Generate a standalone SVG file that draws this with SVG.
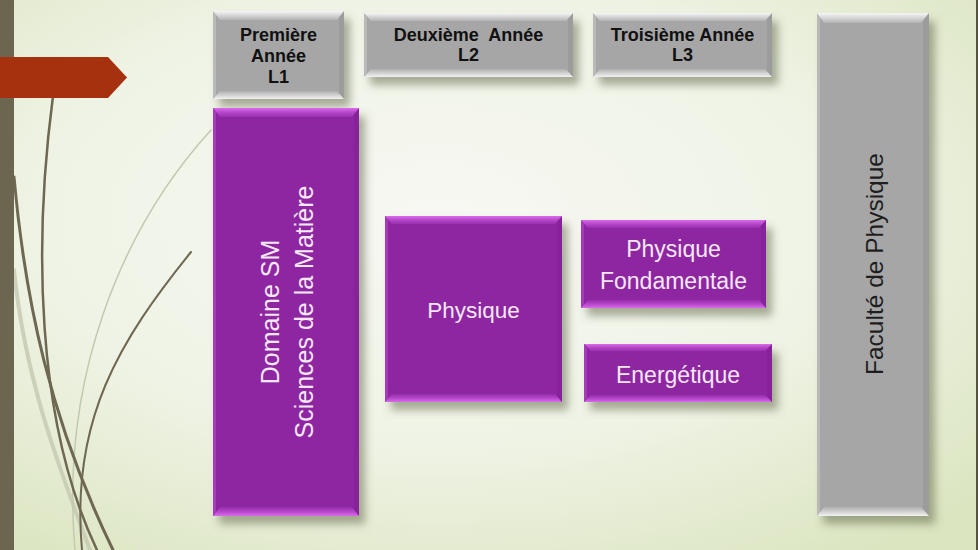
<svg xmlns="http://www.w3.org/2000/svg" width="978" height="550" viewBox="0 0 978 550">
<defs>
<radialGradient id="bg" cx="0.45" cy="0.4" r="0.75">
<stop offset="0" stop-color="#f7f8f3"/>
<stop offset="0.55" stop-color="#eff3e5"/>
<stop offset="1" stop-color="#dbe5c0"/>
</radialGradient>
<filter id="sh" x="-20%" y="-20%" width="150%" height="150%">
<feDropShadow dx="6" dy="8" stdDeviation="4.5" flood-color="#5a6040" flood-opacity="0.5"/>
</filter>
<linearGradient id="tHL" x1="0" y1="0" x2="0" y2="1">
<stop offset="0" stop-color="#fff" stop-opacity="0.9"/>
<stop offset="1" stop-color="#fff" stop-opacity="0.15"/>
</linearGradient>
<linearGradient id="bHL" x1="0" y1="1" x2="0" y2="0">
<stop offset="0" stop-color="#fff" stop-opacity="0.85"/>
<stop offset="1" stop-color="#fff" stop-opacity="0.1"/>
</linearGradient>
<linearGradient id="tHLp" x1="0" y1="0" x2="0" y2="1">
<stop offset="0" stop-color="#e070f0" stop-opacity="0.95"/>
<stop offset="1" stop-color="#c050d8" stop-opacity="0.25"/>
</linearGradient>
<linearGradient id="bHLp" x1="0" y1="1" x2="0" y2="0">
<stop offset="0" stop-color="#e070f0" stop-opacity="0.95"/>
<stop offset="1" stop-color="#c050d8" stop-opacity="0.2"/>
</linearGradient>
<style>
.gray{fill:#a6a6a6}
.purple{fill:#8e25a1}
.hd{font-family:"Liberation Sans",Arial,sans-serif;font-weight:bold;font-size:18px;fill:#111;text-anchor:middle;white-space:pre}
.pt{font-family:"Liberation Sans",Arial,sans-serif;font-size:23px;fill:#f6e8f8;text-anchor:middle}
.ft{font-family:"Liberation Sans",Arial,sans-serif;font-size:24.5px;fill:#1e1e1e;text-anchor:middle}
.lsg{fill:#fff;opacity:0.22}
.rsg{fill:#000;opacity:0.06}
.lsp{fill:#d060e8;opacity:0.35}
.rsp{fill:#6a1080;opacity:0.18}
.curve{fill:none;stroke:#6e6751;stroke-linecap:round}
.lcurve{fill:none;stroke:#c4c8b0;stroke-linecap:round}
</style>
</defs>
<rect x="0" y="0" width="978" height="550" fill="url(#bg)"/>
<rect x="976" y="0" width="2" height="550" fill="#55553f"/>
<g id="decor">
<path class="lcurve" d="M14,270 C 25,380 60,470 90,550" stroke-width="4" opacity="0.8"/>
<path class="lcurve" d="M211,130 C 120,230 60,380 75,550" stroke-width="1.5"/>
<path class="curve" d="M53,96 C 34,240 35,420 97,550" stroke-width="2.5"/>
<path class="curve" d="M14,177 C 25,300 50,420 113,550" stroke-width="3"/>
<path class="curve" d="M191,252 C 120,340 70,420 82,550" stroke-width="2"/>
<rect x="0" y="0" width="14" height="550" fill="#6c6550"/>
<polygon points="0,57 108,57 127,77.5 108,98 0,98" fill="#a5310f"/>
</g>
<g id="connectors"></g>
<g id="n-l1">
<rect class="gray" x="213" y="11" width="131" height="88" filter="url(#sh)"/>
<polygon points="213,11 344,11 337,20 220,20" fill="url(#tHL)"/>
<polygon points="213,99 344,99 337,91 220,91" fill="url(#bHL)"/>
<polygon class="lsg" points="213,11 216,15 216,95 213,99"/>
<polygon class="rsg" points="344,11 339,17 339,93 344,99"/>
<text class="hd" x="278.5" y="41">Première</text>
<text class="hd" x="278.5" y="62">Année</text>
<text class="hd" x="278.5" y="83">L1</text>
</g>
<g id="n-l2">
<rect class="gray" x="364" y="13" width="209" height="64" filter="url(#sh)"/>
<polygon points="364,13 573,13 566,21 371,21" fill="url(#tHL)"/>
<polygon points="364,77 573,77 566,69 371,69" fill="url(#bHL)"/>
<polygon class="lsg" points="364,13 367,17 367,73 364,77"/>
<polygon class="rsg" points="573,13 568,19 568,71 573,77"/>
<text class="hd" x="468.5" y="41">Deuxième  Année</text>
<text class="hd" x="468.5" y="61">L2</text>
</g>
<g id="n-l3">
<rect class="gray" x="593" y="13" width="179" height="64" filter="url(#sh)"/>
<polygon points="593,13 772,13 765,21 600,21" fill="url(#tHL)"/>
<polygon points="593,77 772,77 765,69 600,69" fill="url(#bHL)"/>
<polygon class="lsg" points="593,13 596,17 596,73 593,77"/>
<polygon class="rsg" points="772,13 767,19 767,71 772,77"/>
<text class="hd" x="682.5" y="41">Troisième Année</text>
<text class="hd" x="682.5" y="61">L3</text>
</g>
<g id="n-faculte">
<rect class="gray" x="817" y="13" width="112" height="503" filter="url(#sh)"/>
<polygon points="817,13 929,13 921,23 824,23" fill="url(#tHL)"/>
<polygon points="817,516 929,516 921,507 824,507" fill="url(#bHL)"/>
<polygon class="lsg" points="817,13 820,17 820,512 817,516"/>
<polygon class="rsg" points="929,13 923,20 923,509 929,516"/>
<text class="ft" transform="translate(883,264) rotate(-90)">Faculté de Physique</text>
</g>
<g id="n-domaine">
<rect class="purple" x="213" y="108" width="146" height="408" filter="url(#sh)"/>
<polygon points="213,108 359,108 352,117 220,117" fill="url(#tHLp)"/>
<polygon points="213,516 359,516 352,507 220,507" fill="url(#bHLp)"/>
<polygon class="lsp" points="213,108 216,112 216,512 213,516"/>
<polygon class="rsp" points="359,108 354,114 354,510 359,516"/>
<text class="pt" style="font-size:25px" transform="translate(279,312) rotate(-90)">Domaine SM</text>
<text class="pt" style="font-size:25px" transform="translate(313,312) rotate(-90)">Sciences de la Matière</text>
</g>
<g id="n-physique">
<rect class="purple" x="385" y="216" width="177" height="186" filter="url(#sh)"/>
<polygon points="385,216 562,216 555,224 392,224" fill="url(#tHLp)"/>
<polygon points="385,402 562,402 555,394 392,394" fill="url(#bHLp)"/>
<polygon class="lsp" points="385,216 388,220 388,398 385,402"/>
<polygon class="rsp" points="562,216 557,222 557,396 562,402"/>
<text class="pt" style="font-size:22.5px" x="473.5" y="318">Physique</text>
</g>
<g id="n-fondamentale">
<rect class="purple" x="581" y="220" width="185" height="88" filter="url(#sh)"/>
<polygon points="581,220 766,220 759,228 588,228" fill="url(#tHLp)"/>
<polygon points="581,308 766,308 759,300 588,300" fill="url(#bHLp)"/>
<polygon class="lsp" points="581,220 584,224 584,304 581,308"/>
<polygon class="rsp" points="766,220 761,226 761,302 766,308"/>
<text class="pt" x="673.5" y="257">Physique</text>
<text class="pt" x="673.5" y="289">Fondamentale</text>
</g>
<g id="n-energetique">
<rect class="purple" x="584" y="344" width="188" height="58" filter="url(#sh)"/>
<polygon points="584,344 772,344 765,351 591,351" fill="url(#tHLp)"/>
<polygon points="584,402 772,402 765,395 591,395" fill="url(#bHLp)"/>
<polygon class="lsp" points="584,344 587,348 587,398 584,402"/>
<polygon class="rsp" points="772,344 767,350 767,396 772,402"/>
<text class="pt" x="678" y="383">Energétique</text>
</g>
</svg>
